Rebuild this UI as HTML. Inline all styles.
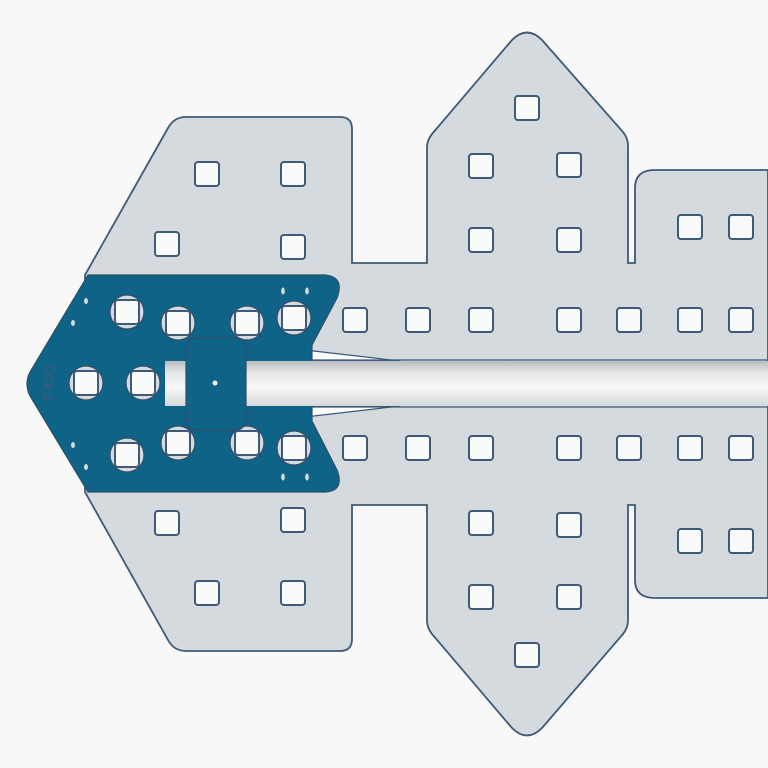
<!DOCTYPE html>
<html><head><style>html,body{margin:0;padding:0;background:#f8f8f8}svg{display:block}</style></head>
<body>
<svg width="768" height="768" viewBox="0 0 768 768" xmlns="http://www.w3.org/2000/svg">
<defs>
<linearGradient id="rod" x1="0" y1="0" x2="0" y2="1">
<stop offset="0" stop-color="#b9bcbe"/><stop offset="0.25" stop-color="#e4e5e6"/><stop offset="0.6" stop-color="#f7f7f7"/><stop offset="1" stop-color="#d6d7d8"/>
</linearGradient>
<g id="sq"><rect x="-12" y="-12" width="24" height="24" rx="3" fill="#f9fafa" stroke="#3e5a78" stroke-width="2"/></g>
<g id="ch"><circle r="17" fill="#d4dadd" stroke="#2e4e68" stroke-width="1.2"/><rect x="-12" y="-12" width="24" height="24" rx="3" fill="#f9fafa" stroke="#3e5a78" stroke-width="2"/></g>
</defs>
<rect width="768" height="768" fill="#f8f8f8"/>
<path d="M85,275 L168,128 Q174,117 186,117 L340,117 Q352,117 352,129 L352,263 L427,263 L427,148 Q427,140 432,134 L512,40 Q527,25 542,40 L623,132 Q628,138 628,146 L628,263 L635,263 L635,188 Q635,170 655,170 L768,170 L768,598 L655,598 Q635,598 635,580 L635,505 L628,505 L628,620 Q628,628 623,634 L542,728 Q527,743 512,728 L432,634 Q427,628 427,620 L427,505 L352,505 L352,639 Q352,651 340,651 L186,651 Q174,651 168,640 L85,492 Z" fill="#d4dadd" stroke="#3e5a78" stroke-width="1.8"/>
<!-- wedges -->
<path d="M305,350 L400,361 L305,361 Z" fill="#fafafa" stroke="#3e5a78" stroke-width="1.2"/>
<path d="M305,417 L400,406 L305,406 Z" fill="#fafafa" stroke="#3e5a78" stroke-width="1.2"/>
<!-- grey holes -->
<g>
<use href="#sq" x="207" y="174"/><use href="#sq" x="293" y="174"/><use href="#sq" x="167" y="244"/><use href="#sq" x="293" y="247"/>
<use href="#sq" x="527" y="108"/><use href="#sq" x="481" y="166"/><use href="#sq" x="569" y="165"/><use href="#sq" x="481" y="240"/><use href="#sq" x="569" y="240"/>
<use href="#sq" x="690" y="227"/><use href="#sq" x="741" y="227"/>
<use href="#sq" x="355" y="320"/><use href="#sq" x="418" y="320"/><use href="#sq" x="481" y="320"/><use href="#sq" x="569" y="320"/><use href="#sq" x="629" y="320"/><use href="#sq" x="690" y="320"/><use href="#sq" x="741" y="320"/>
<use href="#sq" x="355" y="448"/><use href="#sq" x="418" y="448"/><use href="#sq" x="481" y="448"/><use href="#sq" x="569" y="448"/><use href="#sq" x="629" y="448"/><use href="#sq" x="690" y="448"/><use href="#sq" x="741" y="448"/>
<use href="#sq" x="167" y="523"/><use href="#sq" x="293" y="520"/><use href="#sq" x="207" y="593"/><use href="#sq" x="293" y="593"/>
<use href="#sq" x="481" y="523"/><use href="#sq" x="569" y="525"/><use href="#sq" x="481" y="597"/><use href="#sq" x="569" y="597"/><use href="#sq" x="527" y="655"/>
<use href="#sq" x="690" y="541"/><use href="#sq" x="741" y="541"/>
</g>
<!-- blue plate -->
<path d="M88,275 L325,275 Q345,277 337,298 L312,345 L312,421 L337,470 Q345,491 325,492 L88,492 L30,396 Q24,384 30,372 Z" fill="#0e6386" stroke="#2e4e68" stroke-width="1.2"/>
<use href="#ch" x="127" y="312"/><use href="#ch" x="178" y="323"/><use href="#ch" x="247" y="323"/><use href="#ch" x="294" y="318"/>
<use href="#ch" x="86" y="383"/><use href="#ch" x="143" y="383"/>
<use href="#ch" x="178" y="443"/><use href="#ch" x="247" y="443"/><use href="#ch" x="294" y="448"/><use href="#ch" x="127" y="455"/>
<!-- rod -->
<rect x="165" y="361" width="603" height="45" fill="url(#rod)"/>
<line x1="312" y1="360" x2="768" y2="360" stroke="#3e5a78" stroke-width="1.2"/>
<line x1="312" y1="407" x2="768" y2="407" stroke="#3e5a78" stroke-width="1.2"/>
<rect x="186" y="338" width="60" height="92" rx="10" fill="#0e6386" stroke="#2e4e68" stroke-width="1.2"/>
<circle cx="215" cy="383" r="2.5" fill="#f4f4f4"/>
<g fill="#d4dadd">
<ellipse cx="86" cy="301" rx="2" ry="3"/><ellipse cx="73" cy="323" rx="2" ry="3"/>
<ellipse cx="73" cy="445" rx="2" ry="3"/><ellipse cx="86" cy="467" rx="2" ry="3"/>
<ellipse cx="283" cy="291" rx="1.8" ry="3.5"/><ellipse cx="307" cy="291" rx="1.8" ry="3.5"/>
<ellipse cx="283" cy="477" rx="1.8" ry="3.5"/><ellipse cx="307" cy="477" rx="1.8" ry="3.5"/>
</g>
<text x="0" y="0" transform="translate(54,383) rotate(-90)" text-anchor="middle" font-family="Liberation Sans, sans-serif" font-size="15" fill="#3e5a78">F400</text>
</svg>
</body></html>
